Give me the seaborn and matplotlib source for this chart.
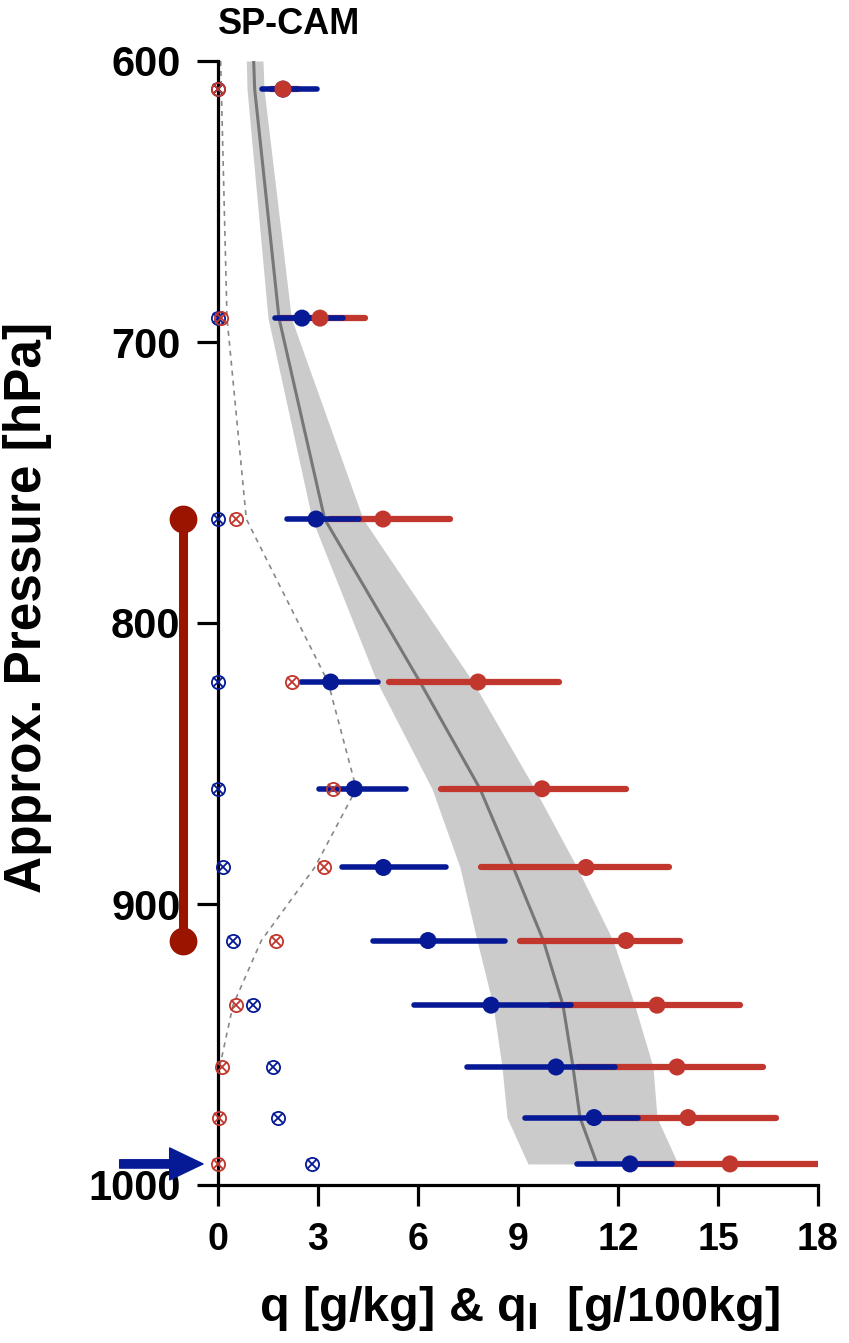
import numpy as np
import pandas as pd
import matplotlib
matplotlib.use("Agg")
import matplotlib.pyplot as plt
import seaborn as sns

# model levels [hPa]
levels = [610, 691.5, 763, 821, 859, 887, 913, 936, 958, 976, 992.5]

# q [g/kg]: mean and spread
q_mean = [1.95, 2.52, 2.94, 3.38, 4.09, 4.96, 6.3, 8.19, 10.14, 11.28, 12.36]
q_lo = [1.32, 1.71, 2.07, 2.5, 3.04, 3.72, 4.65, 5.88, 7.47, 9.21, 10.77]
q_hi = [2.97, 3.75, 4.23, 4.8, 5.64, 6.85, 8.61, 10.59, 11.91, 12.6, 13.62]

# ql [g/100kg]: mean and spread
ql_mean = [1.95, 3.06, 4.95, 7.8, 9.72, 11.04, 12.24, 13.17, 13.77, 14.1, 15.36]
ql_lo = [1.6, 1.9, 3.36, 5.14, 6.68, 7.88, 9.06, 10.0, 10.8, 11.4, 12.45]
ql_hi = [2.4, 4.41, 6.96, 10.24, 12.24, 13.53, 13.86, 15.66, 16.35, 16.74, 18.03]

# clear-sky values (crossed circles)
q_clr = [0.0, 0.0, 0.0, 0.0, 0.0, 0.14, 0.46, 1.04, 1.64, 1.8, 2.82]
ql_clr = [0.0, 0.1, 0.55, 2.22, 3.46, 3.18, 1.73, 0.54, 0.12, 0.03, 0.0]

# reference ql profile (dashed)
ref_p = [600, 610, 691.5, 763, 821, 859, 887, 913, 936, 958, 970]
ref_ql = [0.08, 0.1, 0.27, 0.85, 3.3, 4.15, 2.9, 1.3, 0.45, 0.05, 0.0]

# background q climatology (grey line and band)
bg_p = [600, 610, 691.5, 763, 821, 859, 887, 913, 936, 958, 976, 992.5]
bg_mean = [1.07, 1.1, 1.83, 3.2, 6.06, 7.86, 8.86, 9.76, 10.35, 10.65, 10.86, 11.37]
bg_lo = [0.85, 0.87, 1.5, 2.82, 4.77, 6.42, 7.26, 7.77, 8.25, 8.52, 8.67, 9.3]
bg_hi = [1.35, 1.38, 2.2, 4.35, 7.65, 9.5, 10.77, 11.85, 12.5, 13.05, 13.17, 13.8]

# cloud layer marker and surface arrow
cloud_top, cloud_base = 763, 913
surf_p = 992.5

blue = "#061a96"
red = "#c1372d"
dred = "#9a1400"

sns.set_style("ticks")
plt.rcParams['font.family'] = ['Liberation Sans', 'DejaVu Sans']
plt.rcParams['font.weight'] = 'bold'
plt.rcParams['text.color'] = 'black'
plt.rcParams['axes.labelcolor'] = 'black'
plt.rcParams['xtick.color'] = 'black'
plt.rcParams['ytick.color'] = 'black'

df = pd.DataFrame({'p': levels, 'q': q_mean, 'ql': ql_mean,
                   'q_clr': q_clr, 'ql_clr': ql_clr})
bg = pd.DataFrame({'p': bg_p, 'mean': bg_mean, 'lo': bg_lo, 'hi': bg_hi})

fig = plt.figure(figsize=(8.49, 13.43), dpi=100)
ax = fig.add_axes([218/849, 158/1343, 600/849, 1124/1343])

ax.fill_betweenx(bg['p'], bg['lo'], bg['hi'], color="#cbcbcb", lw=0, zorder=1)
sns.lineplot(data=bg, x='mean', y='p', orient='y', sort=False, color="#777777",
             lw=2.2, ax=ax, zorder=2)
ax.plot(ref_ql, ref_p, ls=(0, (3, 3)), color="#888888", lw=1.2, zorder=2)

# spreads
ax.hlines(levels, ql_lo, ql_hi, color=red, lw=4.5, capstyle='round', zorder=3)
ax.hlines(levels, q_lo, q_hi, color=blue, lw=4.0, capstyle='round', zorder=4)
sns.scatterplot(data=df, x='q', y='p', color=blue, s=150, edgecolor='none',
                ax=ax, zorder=5)
sns.scatterplot(data=df, x='ql', y='p', color=red, s=150, edgecolor='none',
                ax=ax, zorder=6)

# clear-sky crossed circles
for col, c in [('q_clr', blue), ('ql_clr', red)]:
    ax.plot(df[col], df['p'], ls='none', marker='o', ms=9.5, mfc='none',
            mec=c, mew=1.3, clip_on=False, zorder=7)
    ax.plot(df[col], df['p'], ls='none', marker='x', ms=6.5, mec=c, mew=1.3,
            clip_on=False, zorder=7)

# cloud layer bar
ax.plot([-1.05, -1.05], [cloud_top, cloud_base], color=dred, lw=6.5,
        marker='o', ms=19, clip_on=False, zorder=8)
# surface arrow
ax.annotate('', xy=(-0.45, surf_p), xytext=(-2.95, surf_p),
            arrowprops=dict(width=6, headwidth=23, headlength=24, color=blue,
                            shrink=0), annotation_clip=False)

ax.set_xlim(0, 18)
ax.set_ylim(1000, 600)
ax.set_xticks(np.arange(0, 19, 3))
ax.set_yticks([600, 700, 800, 900, 1000])
sns.despine(ax=ax)
for s in ['left', 'bottom']:
    ax.spines[s].set_linewidth(2.3)
    ax.spines[s].set_color('black')
ax.tick_params(axis='both', length=15, width=2.3, color='black', pad=12)
ax.tick_params(axis='x', labelsize=27)
ax.tick_params(axis='y', labelsize=30)
for t in ax.get_xticklabels() + ax.get_yticklabels():
    t.set_fontweight('bold')

ax.set_xlabel(r"q [g/kg] & q$_\mathbf{l}$  [g/100kg]", fontsize=35,
              fontweight='bold')
ax.set_ylabel("Approx. Pressure [hPa]", fontsize=37, fontweight='bold')
ax.xaxis.set_label_coords(0.503, -0.088)
ax.yaxis.set_label_coords(-0.277, 0.514)

fig.text(218/849, 1 - 25/1343, "SP-CAM", fontsize=26, fontweight='bold',
         ha='left', va='center')

fig.savefig("out.png", dpi=100)
